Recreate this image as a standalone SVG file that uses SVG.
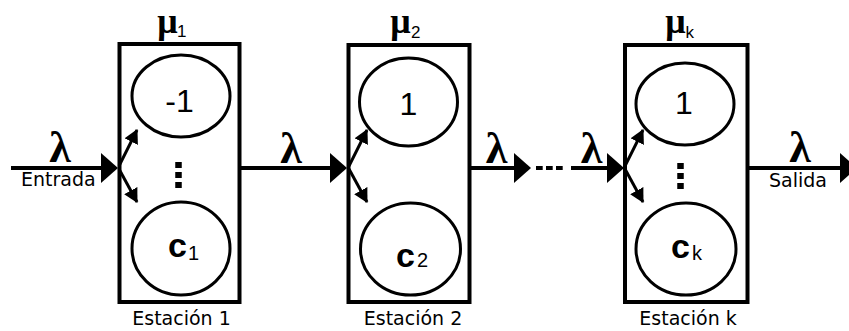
<svg xmlns="http://www.w3.org/2000/svg" width="849" height="331" viewBox="0 0 849 331">
<style>
.box{fill:#fff;stroke:#000;stroke-width:4}
.srv{fill:#fff;stroke:#000;stroke-width:3}
.flow{stroke:#000;stroke-width:4;fill:none}
.fan{stroke:#000;stroke-width:3;fill:none}
.dots{stroke:#000;stroke-width:6.5;stroke-dasharray:6 4;fill:none}
.gap{stroke:#000;stroke-width:4;stroke-dasharray:6.7 3.3;fill:none}
.lam{font-family:"Liberation Serif","Times New Roman",serif;font-weight:bold;font-size:44px;text-anchor:middle}
.mu{font-family:"Liberation Serif","Times New Roman",serif;font-weight:bold;font-size:36px;text-anchor:middle}
.sub{font-family:"Liberation Sans",Arial,sans-serif;font-size:17px}
.num{font-family:"Liberation Sans",Arial,sans-serif;font-size:32px;text-anchor:middle}
.c{font-family:"Liberation Sans",Arial,sans-serif;font-weight:bold;font-size:34px}
.csub{font-family:"Liberation Sans",Arial,sans-serif;font-size:20px}
.lbl{font-family:"DejaVu Sans",sans-serif;font-size:19px}
</style>
<defs>
<marker id="big" markerUnits="userSpaceOnUse" markerWidth="17" markerHeight="30" viewBox="0 0 17 30" refX="0" refY="15" orient="auto">
<path d="M0,0 L17,15 L0,30 z" fill="#000"/>
</marker>
<marker id="small" markerUnits="userSpaceOnUse" markerWidth="14" markerHeight="15" viewBox="0 0 14 15" refX="13" refY="7.5" orient="auto">
<path d="M0,0 L14,7.5 L0,15 z" fill="#000"/>
</marker>
</defs>

<g id="station1">
<rect class="box" x="119.5" y="44" width="120" height="258"/>
<ellipse class="srv" cx="181" cy="96" rx="49" ry="41"/>
<text class="num" x="179.5" y="112">-1</text>
<line class="dots" x1="178.5" y1="162" x2="178.5" y2="188"/>
<ellipse class="srv" cx="181" cy="248.5" rx="49" ry="46.5"/>
<text class="c" x="168" y="257">c</text>
<text class="csub" x="188" y="260">1</text>
<text class="mu" x="167.5" y="33">μ</text>
<text class="sub" x="177" y="37">1</text>
<text class="lbl" x="181.5" y="325" text-anchor="middle">Estación 1</text>
</g>

<g id="station2">
<rect class="box" x="348.5" y="45" width="121" height="257"/>
<ellipse class="srv" cx="408.5" cy="102" rx="49" ry="44"/>
<text class="num" x="408.5" y="115">1</text>
<ellipse class="srv" cx="410.5" cy="249" rx="50" ry="46"/>
<text class="c" x="396" y="267">c</text>
<text class="csub" x="417" y="267">2</text>
<text class="mu" x="400.5" y="33">μ</text>
<text class="sub" x="411" y="38">2</text>
<text class="lbl" x="413" y="325" text-anchor="middle">Estación 2</text>
</g>

<g id="stationk">
<rect class="box" x="625" y="45" width="122.5" height="257"/>
<ellipse class="srv" cx="685" cy="104" rx="49" ry="41"/>
<text class="num" x="684" y="114">1</text>
<line class="dots" x1="680.5" y1="163" x2="680.5" y2="189"/>
<ellipse class="srv" cx="686" cy="249" rx="50" ry="46"/>
<text class="c" x="671" y="258">c</text>
<text class="csub" x="692" y="260">k</text>
<text class="mu" x="675.5" y="33">μ</text>
<text class="sub" x="685.5" y="38">k</text>
<text class="lbl" x="688" y="325" text-anchor="middle">Estación k</text>
</g>

<g id="connectors">
<line class="flow" x1="11" y1="168" x2="101" y2="168" marker-end="url(#big)"/>
<line class="flow" x1="241" y1="168" x2="330" y2="168" marker-end="url(#big)"/>
<line class="flow" x1="471" y1="168" x2="514" y2="168" marker-end="url(#big)"/>
<line class="gap" x1="536" y1="168" x2="564" y2="168"/>
<line class="flow" x1="571" y1="168" x2="607" y2="168" marker-end="url(#big)"/>
<line class="flow" x1="749" y1="168" x2="840" y2="168" marker-end="url(#big)"/>
<line class="fan" x1="119" y1="166" x2="137" y2="130" marker-end="url(#small)"/>
<line class="fan" x1="119" y1="169" x2="137" y2="202" marker-end="url(#small)"/>
<line class="fan" x1="349" y1="166" x2="367" y2="130" marker-end="url(#small)"/>
<line class="fan" x1="349" y1="169" x2="367" y2="202" marker-end="url(#small)"/>
<line class="fan" x1="625" y1="166" x2="643" y2="130" marker-end="url(#small)"/>
<line class="fan" x1="625" y1="169" x2="643" y2="202" marker-end="url(#small)"/>
<text class="lam" x="60" y="162">λ</text>
<text class="lbl" x="21" y="186">Entrada</text>
<text class="lam" x="291" y="163">λ</text>
<text class="lam" x="496.5" y="163">λ</text>
<text class="lam" x="591.5" y="163">λ</text>
<text class="lam" x="800" y="162">λ</text>
<text class="lbl" x="769" y="187">Salida</text>
</g>
</svg>
